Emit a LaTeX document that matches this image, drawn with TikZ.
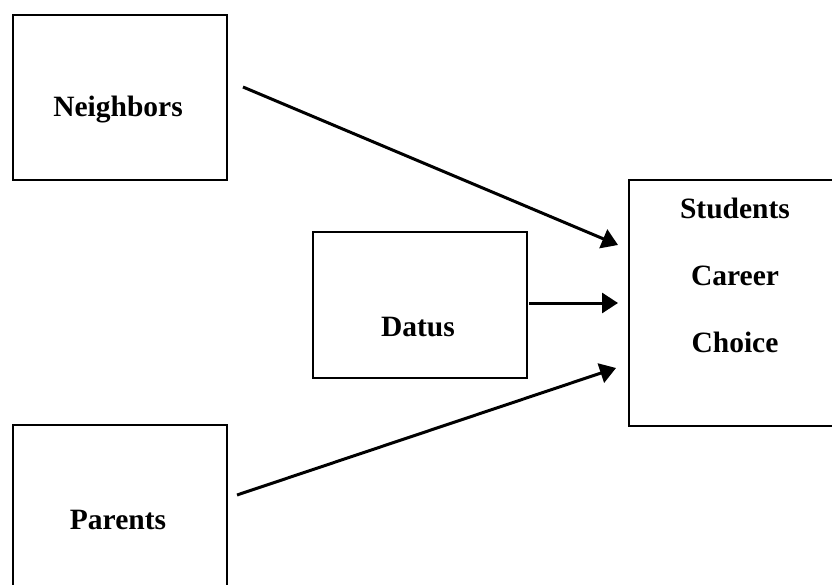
\documentclass[tikz,border=0pt]{standalone}
\usepackage{fontspec}
\setmainfont{Liberation Serif}
\usetikzlibrary{arrows.meta}
\begin{document}
\begin{tikzpicture}[x=1pt,y=-1pt,
  box/.style={draw=black,line width=2pt,inner sep=0pt,anchor=north west},
  lbl/.style={font=\fontsize{29.5}{67}\selectfont\bfseries,align=center,inner sep=0pt},
  conn/.style={line width=3pt,-{Triangle[length=16pt,width=20pt]}}]
\useasboundingbox (0,0) rectangle (832,585);
\clip (0,0) rectangle (832,585);
\node[box,minimum width=214pt,minimum height=165pt] (nb) at (12,14) {};
\node[box,minimum width=214pt,minimum height=170pt] (pa) at (12,424) {};
\node[box,minimum width=214pt,minimum height=146pt] (da) at (312,231) {};
\node[box,minimum width=216pt,minimum height=246pt] (sc) at (628,179) {};
\node[lbl] (nbt) at (118,110) {Neighbors};
\node[lbl] (pat) at (118,520) {Parents};
\node[lbl] (dat) at (418,327) {Datus};
\node[lbl] (sct) at (735,275) {Students\\Career\\Choice};
\coordinate (a1s) at (243,87);
\coordinate (a1e) at (618,245);
\coordinate (a2s) at (529,303);
\coordinate (a2e) at (618,303);
\coordinate (a3s) at (237,495);
\coordinate (a3e) at (616,368);
\draw[conn] (a1s) -- (a1e);
\draw[conn] (a2s) -- (a2e);
\draw[conn] (a3s) -- (a3e);
\end{tikzpicture}
\end{document}
